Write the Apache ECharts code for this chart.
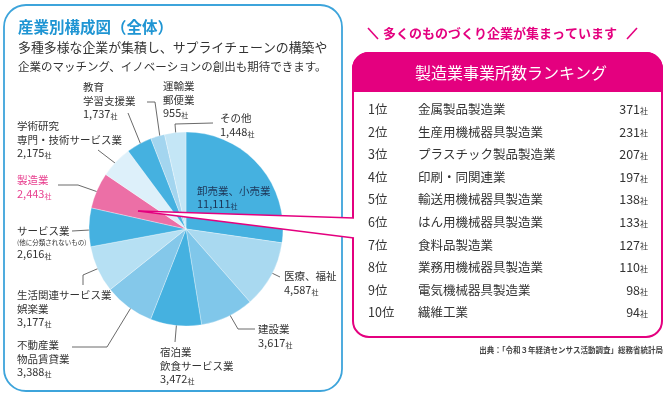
<!DOCTYPE html>
<html>
<head>
<meta charset="utf-8">
<script src="https://cdn.jsdelivr.net/npm/echarts@6/dist/echarts.min.js"></script>
<style>
  html, body { margin: 0; padding: 0; background: #fff; }
  #chart { width: 670px; height: 396px; }
</style>
</head>
<body>
<div id="chart"></div>
<script>
// pie: industries and number of establishments
const industries = ['卸売業、小売業', '医療、福祉', '建設業', '宿泊業\n飲食サービス業', '不動産業\n物品賃貸業',
  '生活関連サービス業\n娯楽業', 'サービス業', '製造業', '学術研究\n専門・技術サービス業', '教育\n学習支援業',
  '運輸業\n郵便業', 'その他']
const counts = [11111, 4587, 3617, 3472, 3388, 3177, 2616, 2443, 2175, 1737, 955, 1448]
const notes = ['', '', '', '', '', '', '(他に分類されないもの)', '', '', '', '', '']
const sliceColors = ['#45b1e0', '#a9d9f0', '#80c7ea', '#45b1e0', '#84c8ea', '#b6e0f3',
  '#45b1e0', '#ec6fa6', '#ddf0fa', '#45b1e0', '#a3d5ef', '#c4e6f6']

// ranking table
const ranks = ['1位', '2位', '3位', '4位', '5位', '6位', '7位', '8位', '9位', '10位']
const rankNames = ['金属製品製造業', '生産用機械器具製造業', 'プラスチック製品製造業', '印刷・同関連業',
  '輸送用機械器具製造業', 'はん用機械器具製造業', '食料品製造業', '業務用機械器具製造業',
  '電気機械器具製造業', '繊維工業']
const rankCounts = [371, 231, 207, 197, 138, 133, 127, 110, 98, 94]

const FONT = '"Noto Sans CJK JP", "Noto Sans", sans-serif'
const PINK = '#e4007f'
const BLUE = '#3da4db'
const PIE_C = [186, 229]
const PIE_R = 97

// label placement (layout only): block top-left, leader start radius, bend points
const labelSpots = [
  { x: 197, y: 184, r: 0, via: [] },
  { x: 284, y: 269.5, r: 44, via: [[280, 277]] },
  { x: 258, y: 322.5, r: 60, via: [[238, 329], [255, 329]] },
  { x: 160, y: 345.5, r: 68, via: [[175, 342]] },
  { x: 17, y: 338.5, r: 69, via: [[107, 347], [72, 347]] },
  { x: 17, y: 288.5, r: 68, via: [[83, 275], [83, 285]] },
  { x: 17, y: 224.5, r: 59, via: [[72, 231]] },
  { x: 17, y: 173.5, r: 82, via: [[78, 185], [58, 185]] },
  { x: 17, y: 119.5, r: 83, via: [[98, 150]] },
  { x: 83, y: 80.5, r: 85, via: [[128, 113]] },
  { x: 163, y: 79.5, r: 83, via: [[155, 102], [147, 102]] },
  { x: 220, y: 111.5, r: 82, via: [[175, 124], [213, 123]] }
]

const total = counts.reduce((a, b) => a + b, 0)
let acc = 0
const midAngles = counts.map((c) => {
  const m = (acc + c / 2) / total * Math.PI * 2
  acc += c
  return m
})

function fmt(n) {
  return n.toLocaleString('en-US')
}

function richSet(prefix, color) {
  const r = {}
  r[prefix + 'n'] = { fontFamily: FONT, fontSize: 10.5, color: color, lineHeight: 13.5 }
  r[prefix + 'v'] = { fontFamily: FONT, fontSize: 11, color: color, lineHeight: 13.5 }
  r[prefix + 'u'] = { fontFamily: FONT, fontSize: 7, color: color, lineHeight: 13.5, verticalAlign: 'bottom', padding: [0, 0, 1, 0] }
  r[prefix + 's'] = { fontFamily: FONT, fontSize: 6.5, color: color, lineHeight: 9 }
  return r
}

const pieData = counts.map((v, i) => {
  const item = { name: industries[i], value: v, itemStyle: { color: sliceColors[i] } }
  if (i === 0) {
    item.labelLine = { show: false }
  }
  return item
})

const chart = echarts.init(document.getElementById('chart'), null, { renderer: 'canvas' })

const option = {
  backgroundColor: '#fff',
  animation: false,
  textStyle: { fontFamily: FONT },
  grid: { left: 363, top: 98, width: 290, height: 226 },
  xAxis: { type: 'value', min: 0, max: 1, show: false },
  yAxis: {
    type: 'category',
    data: ranks,
    inverse: true,
    axisLine: { show: false },
    axisTick: { show: false },
    axisLabel: { show: false },
    splitLine: { show: true, lineStyle: { color: '#6a6a6a', width: 1 } }
  },
  graphic: [
    // left panel
    { type: 'rect', z: 0, shape: { x: 4, y: 5, width: 338, height: 386, r: 22 },
      style: { fill: 'none', stroke: BLUE, lineWidth: 1.8 } },
    { type: 'text', z: 5, x: 18, y: 27,
      style: { text: '産業別構成図（全体）', fontFamily: FONT, fontSize: 15.5, fontWeight: 'bold', fill: '#1f95d3', verticalAlign: 'middle' } },
    { type: 'text', z: 5, x: 18, y: 47,
      style: { text: '多種多様な企業が集積し、サプライチェーンの構築や', fontFamily: FONT, fontSize: 12.9, fill: '#333', verticalAlign: 'middle' } },
    { type: 'text', z: 5, x: 18, y: 67,
      style: { text: '企業のマッチング、イノベーションの創出も期待できます。', fontFamily: FONT, fontSize: 11.5, fill: '#333', verticalAlign: 'middle' } },
    // right ranking box
    { type: 'line', z: 5, shape: { x1: 368, y1: 28, x2: 378, y2: 39 }, style: { stroke: PINK, lineWidth: 1.6 } },
    { type: 'line', z: 5, shape: { x1: 627, y1: 39, x2: 637, y2: 28 }, style: { stroke: PINK, lineWidth: 1.6 } },
    { type: 'text', z: 5, x: 500, y: 33,
      style: { text: '多くのものづくり企業が集まっています', fontFamily: FONT, fontSize: 13, fontWeight: 'bold', fill: PINK, align: 'center', verticalAlign: 'middle' } },
    { type: 'rect', z: 1, shape: { x: 353, y: 53, width: 309, height: 284, r: 16 },
      style: { fill: '#fff', stroke: PINK, lineWidth: 2 } },
    { type: 'rect', z: 2, shape: { x: 353, y: 53, width: 309, height: 38, r: [16, 16, 0, 0] },
      style: { fill: PINK, stroke: PINK, lineWidth: 2 } },
    { type: 'text', z: 5, x: 511, y: 73,
      style: { text: '製造業事業所数ランキング', fontFamily: FONT, fontSize: 16, fill: '#fff', align: 'center', verticalAlign: 'middle' } },
    { type: 'text', z: 5, x: 663, y: 350,
      style: { text: '出典：「令和３年経済センサス活動調査」総務省統計局', fontFamily: FONT, fontSize: 7.5, fontWeight: 'bold', fill: '#444', align: 'right', verticalAlign: 'middle' } },
    // callout wedge from 製造業 slice to the ranking box
    { type: 'polygon', z: 20, shape: { points: [[138, 211], [354.5, 218], [354.5, 238]] },
      style: { fill: '#fff' } },
    { type: 'line', z: 21, shape: { x1: 138, y1: 211, x2: 354, y2: 218 }, style: { stroke: PINK, lineWidth: 1.6 } },
    { type: 'line', z: 21, shape: { x1: 138, y1: 211, x2: 354, y2: 238 }, style: { stroke: PINK, lineWidth: 1.6 } }
  ],
  series: [
    {
      name: '産業別構成',
      type: 'pie',
      center: PIE_C,
      radius: PIE_R,
      startAngle: 90,
      clockwise: true,
      avoidLabelOverlap: false,
      z: 3,
      itemStyle: { borderColor: 'rgba(255,255,255,0.6)', borderWidth: 0.5 },
      label: {
        show: true,
        position: 'outside',
        formatter: (p) => {
          const i = p.dataIndex
          const k = i === 7 ? 'p' : (i === 0 ? 'd' : '')
          let s = industries[i].split('\n').map((l) => `{${k}n|${l}}`).join('\n')
          if (notes[i]) s += `\n{${k}s|${notes[i]}}`
          s += `\n{${k}v|${fmt(counts[i])}}{${k}u|社}`
          return s
        },
        rich: Object.assign({}, richSet('', '#333'), richSet('p', '#e8408f'), richSet('d', '#1d3557'))
      },
      labelLine: { show: true, lineStyle: { color: '#444', width: 0.8 } },
      labelLayout: (params) => {
        const i = params.dataIndex
        const s = labelSpots[i]
        const a = midAngles[i]
        const start = [PIE_C[0] + s.r * Math.sin(a), PIE_C[1] - s.r * Math.cos(a)]
        const pts = [start].concat(s.via)
        while (pts.length < 3) pts.push(pts[pts.length - 1])
        return { x: s.x, y: s.y, align: 'left', verticalAlign: 'top', labelLinePoints: pts }
      },
      data: pieData
    },
    {
      name: 'ランキング',
      type: 'custom',
      z: 10,
      data: rankCounts.map((v, i) => [0, i, v]),
      renderItem: (params, api) => {
        const i = params.dataIndex
        const y = api.coord([0, api.value(1)])[1]
        const cs = params.coordSys
        return {
          type: 'group',
          children: [
            { type: 'text', style: { x: cs.x + 5, y: y, text: ranks[i], fontFamily: FONT, fontSize: 12.5, fill: '#333', verticalAlign: 'middle' } },
            { type: 'text', style: { x: cs.x + 55, y: y, text: rankNames[i], fontFamily: FONT, fontSize: 12.5, fill: '#333', verticalAlign: 'middle' } },
            { type: 'text', style: {
              x: cs.x + cs.width - 5, y: y, align: 'right', verticalAlign: 'middle',
              text: `{v|${api.value(2)}}{u|社}`,
              rich: {
                v: { fontFamily: FONT, fontSize: 12.5, fill: '#333', lineHeight: 15 },
                u: { fontFamily: FONT, fontSize: 8, fill: '#333', lineHeight: 15, verticalAlign: 'bottom', padding: [0, 0, 2, 0] }
              }
            } }
          ]
        }
      }
    }
  ]
}

chart.setOption(option)
</script>
</body>
</html>
